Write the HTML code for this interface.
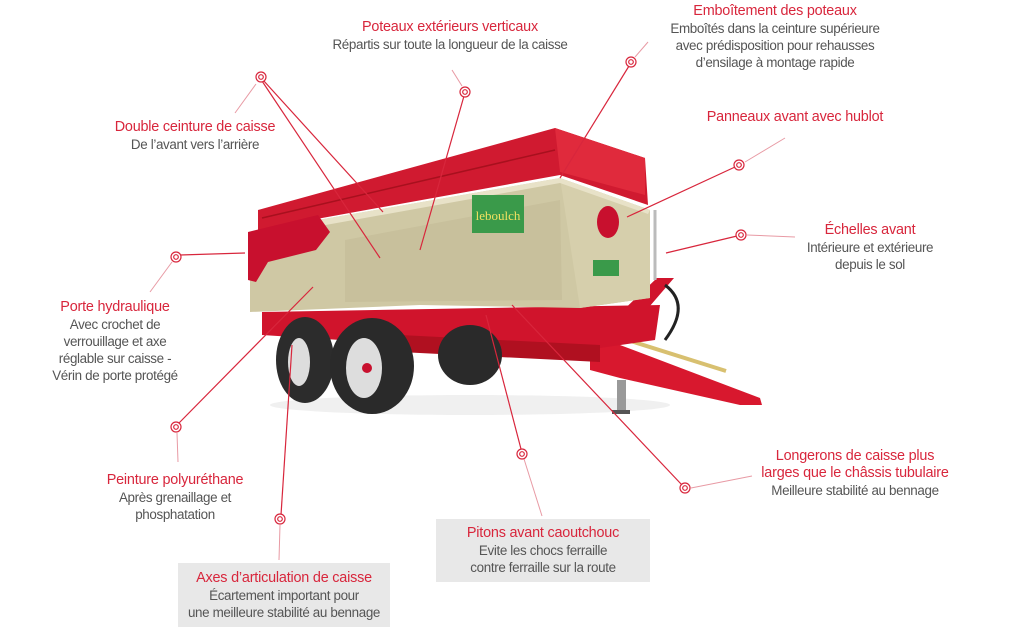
<!DOCTYPE html>
<html><head><meta charset="utf-8"><style>
body{margin:0;width:1009px;height:631px;background:#fff;position:relative;overflow:hidden;font-family:"Liberation Sans",sans-serif}
.t{position:absolute;text-align:center;font-size:13.4px;line-height:17px;color:#555;letter-spacing:-0.35px}
.t b{color:#d8263c;font-weight:normal;font-size:14.4px;letter-spacing:-0.2px;display:block}
.box{background:#e8e8e8}
svg{position:absolute;left:0;top:0}
</style></head><body>
<svg width="1009" height="631" viewBox="0 0 1009 631">
<ellipse cx="470" cy="405" rx="200" ry="10" fill="#f0f0f0"/>
<!-- drawbar -->
<polygon points="585,322 615,318 657,278 674,278 625,335 610,348 585,345" fill="#d0142c"/>
<path d="M665,285 C685,300 680,320 665,340" stroke="#222" stroke-width="3" fill="none"/>
<polygon points="590,340 620,345 760,398 762,405 740,405 620,378 590,370" fill="#d8182e"/>
<line x1="618" y1="337" x2="726" y2="371" stroke="#d8c070" stroke-width="4"/>
<rect x="617" y="380" width="9" height="32" fill="#999"/>
<rect x="612" y="410" width="18" height="4" fill="#555"/>
<!-- chassis -->
<polygon points="262,312 660,305 655,340 600,348 420,345 262,335" fill="#d0142c"/>
<polygon points="400,335 600,345 600,362 400,352" fill="#b01020"/>
<!-- wheels -->
<ellipse cx="470" cy="355" rx="32" ry="30" fill="#2a2a2a"/>
<ellipse cx="305" cy="360" rx="29" ry="43" fill="#2c2c2c"/>
<ellipse cx="299" cy="362" rx="11" ry="24" fill="#ddd"/>
<ellipse cx="372" cy="366" rx="42" ry="48" fill="#2a2a2a"/>
<ellipse cx="364" cy="368" rx="18" ry="30" fill="#ddd"/>
<circle cx="367" cy="368" r="5" fill="#c8102e"/>
<!-- body -->
<polygon points="250,240 318,220 560,178 650,210 650,298 580,308 420,305 250,312" fill="#cfc8a4"/>
<polygon points="560,178 650,210 650,298 580,308" fill="#d6cfac"/>
<polygon points="345,240 560,200 562,300 345,302" fill="#c8c09c"/>
<polygon points="318,220 560,178 650,210 648,214 560,183 320,226" fill="#e8e2c8"/>
<!-- red top rails -->
<polygon points="258,210 555,128 645,158 648,205 560,175 300,222 258,230" fill="#d01a30"/>
<polygon points="555,128 645,158 645,195 560,172" fill="#e02a3c"/>
<line x1="262" y1="218" x2="555" y2="150" stroke="#a8101e" stroke-width="1.5"/>
<!-- front door -->
<polygon points="248,232 318,215 330,232 316,250 268,262 256,282 248,280" fill="#c8102e"/>
<rect x="472" y="195" width="52" height="38" fill="#3a9a4a"/>
<text x="498" y="220" font-size="13" fill="#f0e060" text-anchor="middle" font-family="Liberation Serif">leboulch</text>
<rect x="593" y="260" width="26" height="16" fill="#3a9a4a"/>
<ellipse cx="608" cy="222" rx="11" ry="16" fill="#c8102e"/>
<line x1="655" y1="210" x2="655" y2="280" stroke="#bbb" stroke-width="3"/>
<!-- connectors -->
<g stroke="#d8263c" fill="none" stroke-width="1.2">
<line x1="263" y1="80" x2="383" y2="212"/><line x1="262" y1="81" x2="380" y2="258"/>
<line x1="464" y1="96" x2="420" y2="250"/>
<line x1="629" y1="66" x2="560" y2="178"/>
<line x1="735" y1="167" x2="627" y2="217"/>
<line x1="737" y1="236" x2="666" y2="253"/>
<line x1="180" y1="255" x2="245" y2="253"/>
<line x1="179" y1="423" x2="313" y2="287"/>
<line x1="281" y1="515" x2="292" y2="345"/>
<line x1="521" y1="449" x2="486" y2="315"/>
<line x1="682" y1="485" x2="512" y2="305"/>
</g>
<g stroke="#e89aa4" fill="none" stroke-width="1">
<line x1="256" y1="84" x2="235" y2="113"/>
<line x1="462" y1="86" x2="452" y2="70"/>
<line x1="635" y1="57" x2="648" y2="42"/>
<line x1="745" y1="162" x2="785" y2="138"/>
<line x1="747" y1="235" x2="795" y2="237"/>
<line x1="172" y1="262" x2="150" y2="292"/>
<line x1="177" y1="433" x2="178" y2="462"/>
<line x1="280" y1="525" x2="279" y2="560"/>
<line x1="524" y1="459" x2="542" y2="516"/>
<line x1="691" y1="488" x2="752" y2="476"/>
</g>
<g stroke="#d8263c" fill="#fff" stroke-width="1.2">
<circle cx="261" cy="77" r="5"/><circle cx="261" cy="77" r="2.3"/>
<circle cx="465" cy="92" r="5"/><circle cx="465" cy="92" r="2.3"/>
<circle cx="631" cy="62" r="5"/><circle cx="631" cy="62" r="2.3"/>
<circle cx="739" cy="165" r="5"/><circle cx="739" cy="165" r="2.3"/>
<circle cx="741" cy="235" r="5"/><circle cx="741" cy="235" r="2.3"/>
<circle cx="176" cy="257" r="5"/><circle cx="176" cy="257" r="2.3"/>
<circle cx="176" cy="427" r="5"/><circle cx="176" cy="427" r="2.3"/>
<circle cx="280" cy="519" r="5"/><circle cx="280" cy="519" r="2.3"/>
<circle cx="522" cy="454" r="5"/><circle cx="522" cy="454" r="2.3"/>
<circle cx="685" cy="488" r="5"/><circle cx="685" cy="488" r="2.3"/>
</g>
</svg>
<div class="t" style="left:300px;top:19px;width:300px"><b>Poteaux extérieurs verticaux</b>Répartis sur toute la longueur de la caisse</div>
<div class="t" style="left:640px;top:3px;width:270px"><b>Emboîtement des poteaux</b>Emboîtés dans la ceinture supérieure<br>avec prédisposition pour rehausses<br>d’ensilage à montage rapide</div>
<div class="t" style="left:80px;top:119px;width:230px"><b>Double ceinture de caisse</b>De l’avant vers l’arrière</div>
<div class="t" style="left:680px;top:109px;width:230px"><b>Panneaux avant avec hublot</b></div>
<div class="t" style="left:775px;top:222px;width:190px"><b>Échelles avant</b>Intérieure et extérieure<br>depuis le sol</div>
<div class="t" style="left:35px;top:299px;width:160px"><b>Porte hydraulique</b>Avec crochet de<br>verrouillage et axe<br>réglable sur caisse -<br>Vérin de porte protégé</div>
<div class="t" style="left:60px;top:472px;width:230px"><b>Peinture polyuréthane</b>Après grenaillage et<br>phosphatation</div>
<div class="t" style="left:735px;top:448px;width:240px"><b>Longerons de caisse plus<br>larges que le châssis tubulaire</b>Meilleure stabilité au bennage</div>
<div class="t box" style="left:436px;top:519px;width:214px;height:63px;padding-top:6px;box-sizing:border-box"><b>Pitons avant caoutchouc</b>Evite les chocs ferraille<br>contre ferraille sur la route</div>
<div class="t box" style="left:178px;top:563px;width:212px;height:64px;padding-top:7px;box-sizing:border-box"><b>Axes d’articulation de caisse</b>Écartement important pour<br>une meilleure stabilité au bennage</div>
</body></html>
